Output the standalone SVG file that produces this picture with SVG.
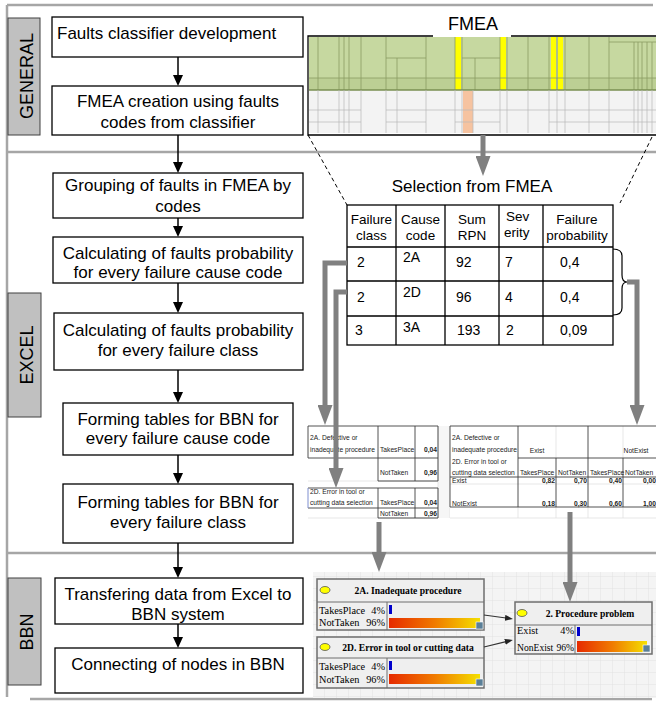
<svg xmlns="http://www.w3.org/2000/svg" width="656" height="702" viewBox="0 0 656 702">
<defs>
<style>
.box{fill:#fff;stroke:#000;stroke-width:1.3}
.t{font-family:"Liberation Sans",Arial,sans-serif;font-size:17px;fill:#000}
.c{text-anchor:middle}
.e{text-anchor:end}
.lbl{fill:#c0c0c0;stroke:#404040;stroke-width:1}
.lt{font-family:"Liberation Sans",Arial,sans-serif;font-size:18px;fill:#000;text-anchor:middle}
.sec{stroke:#a6a6a6;stroke-width:2.5;fill:none}
.ga{stroke:#808080;stroke-width:5;fill:none;marker-end:url(#gh)}
.ba{stroke:#000;stroke-width:1.5;fill:none;marker-end:url(#bh)}
.na{stroke:#333;stroke-width:1.2;fill:none;marker-end:url(#nh)}
.tbl{fill:none;stroke:#000;stroke-width:1.3}
.th{font-family:"Liberation Sans",Arial,sans-serif;font-size:13.5px;fill:#000}
.td{font-family:"Liberation Sans",Arial,sans-serif;font-size:14px;fill:#000}
.xs{font-family:"Liberation Sans",Arial,sans-serif;font-size:6.7px;fill:#222}
.xb{font-family:"Liberation Sans",Arial,sans-serif;font-size:6.7px;font-weight:bold;fill:#222}
.xd{stroke:#404040;stroke-width:0.9;fill:none}
.xl{stroke:#dcdcdc;stroke-width:0.7;fill:none}
.hl{stroke:#8a9d62;stroke-width:0.8;fill:none}
.bl{stroke:#b8b8b8;stroke-width:0.7;fill:none}
.node{fill:#efefef;stroke:#6e6e6e;stroke-width:1.5}
.ns{stroke:#6e6e6e;stroke-width:1;fill:none}
.bt{font-family:"Liberation Serif","Times New Roman",serif;font-size:9.6px;font-weight:bold;fill:#000;text-anchor:middle}
.bn{font-family:"Liberation Serif","Times New Roman",serif;font-size:10.3px;fill:#000}
.dot{fill:#ffff00;stroke:#555;stroke-width:0.8}
.blue{fill:#0000cc}
.icon{fill:#5a7f98;stroke:#fff;stroke-width:0.6}
</style>
<marker id="gh" markerUnits="userSpaceOnUse" markerWidth="20" markerHeight="15" refX="2" refY="7.5" orient="auto"><path d="M0,0 L20,7.5 L0,15 z" fill="#808080"/></marker>
<marker id="bh" markerUnits="userSpaceOnUse" markerWidth="11" markerHeight="10" refX="1" refY="5" orient="auto"><path d="M0,0 L11,5 L0,10 z" fill="#000"/></marker>
<marker id="nh" markerUnits="userSpaceOnUse" markerWidth="8" markerHeight="6" refX="1" refY="3" orient="auto"><path d="M0,0 L8,3 L0,6 z" fill="#222"/></marker>
<linearGradient id="og" x1="0" y1="0" x2="1" y2="0"><stop offset="0" stop-color="#e62a00"/><stop offset="0.5" stop-color="#f07a00"/><stop offset="1" stop-color="#f4e000"/></linearGradient>
<pattern id="grid" width="12" height="12" patternUnits="userSpaceOnUse"><path d="M12,0 H0 V12" fill="none" stroke="#dedede" stroke-width="0.8"/></pattern>
</defs>

<g id="frame">
<path class="sec" d="M7,5 H653"/>
<path class="sec" d="M7,5 V697"/>
<path class="sec" d="M7,152 H656"/>
<path class="sec" d="M7,553 H656"/>
<path class="sec" d="M30,699 H652"/>
</g>

<g id="label-general"><rect class="lbl" x="8" y="18" width="32" height="117"/><text class="lt" transform="translate(33,76) rotate(-90)">GENERAL</text></g>
<g id="label-excel"><rect class="lbl" x="8" y="293" width="33" height="124"/><text class="lt" transform="translate(33,355) rotate(-90)">EXCEL</text></g>
<g id="label-bbn"><rect class="lbl" x="8" y="578" width="33" height="107"/><text class="lt" transform="translate(33,632) rotate(-90)">BBN</text></g>

<g id="step1"><rect class="box" x="52" y="17" width="251" height="40"/><text class="t" x="57" y="39">Faults classifier development</text></g>
<g id="step2"><rect class="box" x="52" y="86" width="251" height="49"/><text class="t c" x="178" y="107">FMEA creation using faults</text><text class="t c" x="178" y="128">codes from classifier</text></g>
<g id="step3"><rect class="box" x="53" y="173" width="250" height="45"/><text class="t c" x="178" y="191">Grouping of faults in FMEA by</text><text class="t c" x="178" y="212">codes</text></g>
<g id="step4"><rect class="box" x="53" y="237" width="250" height="46"/><text class="t c" x="178" y="259">Calculating of faults probability</text><text class="t c" x="178" y="278">for every failure cause code</text></g>
<g id="step5"><rect class="box" x="54" y="313" width="249" height="57"/><text class="t c" x="178" y="336">Calculating of faults probability</text><text class="t c" x="178" y="356">for every failure class</text></g>
<g id="step6"><rect class="box" x="63" y="403" width="230" height="52"/><text class="t c" x="178" y="425">Forming tables for BBN for</text><text class="t c" x="178" y="444">every failure cause code</text></g>
<g id="step7"><rect class="box" x="63" y="484" width="230" height="59"/><text class="t c" x="178" y="508">Forming tables for BBN for</text><text class="t c" x="178" y="528">every failure class</text></g>
<g id="step8"><rect class="box" x="55" y="578" width="248" height="46"/><text class="t c" x="178" y="600">Transfering data from Excel to</text><text class="t c" x="178" y="620">BBN system</text></g>
<g id="step9"><rect class="box" x="55" y="648" width="248" height="45"/><text class="t c" x="178" y="670">Connecting of nodes in BBN</text></g>

<g id="fmea">
<text class="t c" x="473" y="30" style="font-size:18px">FMEA</text>
<rect x="309" y="37" width="347" height="53" fill="#c6d8a0"/>
<rect x="309" y="78" width="347" height="12" fill="#bccf94"/>
<rect x="309" y="90" width="347" height="43" fill="#f3f3f3"/>
<rect x="455" y="37" width="6" height="53" fill="#ffff00"/>
<rect x="500" y="37" width="6" height="53" fill="#ffff00"/>
<rect x="551" y="37" width="5" height="53" fill="#ffff00"/>
<rect x="558" y="37" width="5" height="53" fill="#ffff00"/>
<rect x="463" y="91" width="10" height="42" fill="#f6c3a0"/>
<path class="hl" d="M309,78 H656 M386,58 H426 M462,58 H500 M609,42 H656"/>
<path class="hl" d="M318,37 V90 M339,37 V90 M344,37 V90 M349,37 V90 M361,37 V90 M386,37 V90 M397,58 V90 M426,37 V90 M455,37 V90 M462,37 V90 M475,58 V90 M500,37 V90 M507,37 V90 M528,37 V90 M549,37 V90 M557,37 V90 M565,37 V90 M589,37 V90 M609,37 V90 M634,42 V90 M638,42 V90 M642,42 V90 M647,42 V90 M652,42 V90"/>
<path d="M309,90 H656" stroke="#7a8f52" stroke-width="1.5"/>
<path class="bl" d="M318,90 V133 M339,90 V133 M344,90 V133 M349,90 V133 M361,90 V133 M386,90 V133 M397,90 V133 M426,90 V133 M455,90 V133 M462,90 V133 M473,90 V133 M500,90 V133 M507,90 V133 M528,90 V133 M549,90 V133 M557,90 V133 M565,90 V133 M589,90 V133 M609,90 V133 M634,90 V133 M638,90 V133 M642,90 V133 M647,90 V133 M652,90 V133"/>
<path class="bl" d="M309,110 H361 M386,110 H656 M309,122 H361 M386,122 H426 M455,122 H500 M549,122 H656"/>
<path d="M433,36 H308 V135 H656 M511,36 H656" fill="none" stroke="#000" stroke-width="1.3"/>
</g>

<g id="selection-table">
<text class="t c" x="472" y="192">Selection from FMEA</text>
<rect class="tbl" x="347" y="205" width="266" height="140"/>
<path class="tbl" d="M347,247 H613 M347,281 H613 M347,316 H613 M396,205 V345 M445,205 V345 M499,205 V345 M543,205 V345"/>
<text class="th c" x="371.5" y="224">Failure</text><text class="th c" x="371.5" y="240">class</text>
<text class="th c" x="420.5" y="224">Cause</text><text class="th c" x="420.5" y="240">code</text>
<text class="th c" x="472" y="224">Sum</text><text class="th c" x="472" y="240">RPN</text>
<text class="th" x="506" y="221">Sev</text><text class="th" x="504" y="237">erity</text>
<text class="th c" x="577" y="224">Failure</text><text class="th c" x="577" y="240">probability</text>
<text class="td" x="357" y="267">2</text><text class="td" x="403" y="262">2A</text><text class="td" x="456" y="267">92</text><text class="td" x="505" y="267">7</text><text class="td" x="560" y="267">0,4</text>
<text class="td" x="357" y="302">2</text><text class="td" x="403" y="297">2D</text><text class="td" x="456" y="302">96</text><text class="td" x="505" y="302">4</text><text class="td" x="560" y="302">0,4</text>
<text class="td" x="355" y="335">3</text><text class="td" x="403" y="332">3A</text><text class="td" x="457" y="335">193</text><text class="td" x="506" y="335">2</text><text class="td" x="560" y="335">0,09</text>
<path d="M613,249 Q622,249 622,256 L622,275 Q622,282 627,282 Q622,282 622,289 L622,308 Q622,315 613,315" fill="none" stroke="#000" stroke-width="1.2"/>
</g>

<g id="bbn-table-codes">
<rect x="308" y="426" width="130" height="92" fill="#fff"/>
<rect x="438" y="426" width="12" height="92" fill="#f6f6f6"/>
<path class="xl" d="M308,481 H438 M308,518 H438 M438,426 V518 M450,426 V518"/>
<path class="xd" d="M308,426 H438 M308,426 V458 M308,458 H438 M378,426 V481 M415,426 V481 M438,426 V481 M378,481 H438 M308,488 H438 M308,508 H438 M378,488 V518 M415,488 V518 M438,488 V518 M378,518 H438"/>
<path d="M308,488 V508" stroke="#7f8fd0" stroke-width="1"/>
<text class="xs" x="310" y="440">2A. Defective or</text><text class="xs" x="310" y="452">inadequate procedure</text>
<text class="xs" x="380" y="452">TakesPlace</text><text class="xb e" x="437" y="452">0,04</text>
<text class="xs" x="380" y="475">NotTaken</text><text class="xb e" x="437" y="475">0,96</text>
<text class="xs" x="310" y="494">2D. Error in tool or</text><text class="xs" x="310" y="505">cutting data selection</text>
<text class="xs" x="380" y="505">TakesPlace</text><text class="xb e" x="437" y="505">0,04</text>
<text class="xs" x="380" y="516">NotTaken</text><text class="xb e" x="437" y="516">0,96</text>
</g>

<g id="bbn-table-class">
<rect x="450" y="426" width="206" height="92" fill="#fff"/>
<path class="xl" d="M450,484 H656 M450,518 H656 M556,426 V458 M623,426 V458 M556,507 V518 M623,507 V518 M518,507 V518 M588,507 V518"/>
<path class="xd" d="M450,426 H656 M450,426 V507 M518,426 V507 M588,426 V507 M556,458 V507 M623,458 V507 M518,458 H656 M450,477 H656 M450,507 H656"/>
<text class="xs" x="452" y="440">2A. Defective or</text><text class="xs" x="452" y="452">inadequate procedure</text>
<text class="xs c" x="537" y="453">Exist</text><text class="xs c" x="636" y="453">NotExist</text>
<text class="xs" x="452" y="464">2D. Error in tool or</text><text class="xs" x="452" y="475">cutting data selection</text>
<text class="xs" x="520" y="475">TakesPlace</text><text class="xs" x="558" y="475">NotTaken</text><text class="xs" x="590" y="475">TakesPlace</text><text class="xs" x="625" y="475">NotTaken</text>
<text class="xs" x="452" y="483">Exist</text>
<text class="xb e" x="555" y="483">0,82</text><text class="xb e" x="587" y="483">0,70</text><text class="xb e" x="622" y="483">0,40</text><text class="xb e" x="656" y="483">0,00</text>
<text class="xs" x="452" y="506">NotExist</text>
<text class="xb e" x="555" y="506">0,18</text><text class="xb e" x="587" y="506">0,30</text><text class="xb e" x="622" y="506">0,60</text><text class="xb e" x="656" y="506">1,00</text>
</g>

<g id="bbn-canvas">
<rect x="313" y="572" width="343" height="126" fill="#f4f4f4"/>
<rect x="313" y="572" width="343" height="126" fill="url(#grid)"/>
</g>

<g id="node-2a">
<rect class="node" x="317" y="579" width="167" height="51"/>
<path class="ns" d="M317,602 H484 M387,602 V630"/>
<ellipse class="dot" cx="325" cy="590" rx="5" ry="3.5"/>
<text class="bt" x="408" y="594">2A. Inadequate procedure</text>
<text class="bn" x="319" y="614">TakesPlace</text><text class="bn e" x="385" y="614">4%</text>
<text class="bn" x="319" y="626">NotTaken</text><text class="bn e" x="385" y="626">96%</text>
<rect class="blue" x="389" y="605" width="3" height="9"/>
<rect x="389" y="618" width="91" height="10" fill="url(#og)"/>
<rect class="icon" x="476" y="622" width="7" height="7"/>
</g>

<g id="node-2d">
<rect class="node" x="317" y="637" width="167" height="51"/>
<path class="ns" d="M317,658 H484 M387,658 V688"/>
<ellipse class="dot" cx="325" cy="647" rx="5" ry="3.5"/>
<text class="bt" x="408" y="651">2D. Error in tool or cutting data</text>
<text class="bn" x="319" y="670">TakesPlace</text><text class="bn e" x="385" y="670">4%</text>
<text class="bn" x="319" y="683">NotTaken</text><text class="bn e" x="385" y="683">96%</text>
<rect class="blue" x="389" y="661" width="3" height="9"/>
<rect x="389" y="674" width="91" height="10" fill="url(#og)"/>
<rect class="icon" x="476" y="679" width="7" height="7"/>
</g>

<g id="node-2">
<rect class="node" x="515" y="602" width="137" height="52"/>
<path class="ns" d="M515,625 H652 M575,625 V654"/>
<ellipse class="dot" cx="522" cy="613" rx="5" ry="3.5"/>
<text class="bt" x="590" y="617">2. Procedure problem</text>
<text class="bn" x="517" y="634">Exist</text><text class="bn e" x="574" y="634">4%</text>
<text class="bn" x="517" y="651" style="font-size:9.6px">NonExist</text><text class="bn e" x="574" y="651" style="font-size:9.6px">96%</text>
<rect class="blue" x="577" y="627" width="3" height="9"/>
<rect x="577" y="641" width="70" height="11" fill="url(#og)"/>
<rect class="icon" x="643" y="645" width="7" height="7"/>
</g>

<g id="connectors">
<path class="ba" d="M178,57 V76"/>
<path class="ba" d="M178,135 V163"/>
<path class="ba" d="M178,218 V227"/>
<path class="ba" d="M178,283 V303"/>
<path class="ba" d="M178,370 V393"/>
<path class="ba" d="M178,455 V474"/>
<path class="ba" d="M178,543 V568"/>
<path class="ba" d="M178,624 V638"/>
<path d="M308,135 L347,205 M652,137 L620,203" fill="none" stroke="#000" stroke-width="1" stroke-dasharray="4,3"/>
<path class="ga" d="M483,135 V158"/>
<path class="ga" d="M347,263 H325 V407"/>
<path class="ga" d="M347,292 H336 V470"/>
<path class="ga" d="M627,282 H637 V407"/>
<path class="ga" d="M379,522 V554"/>
<path class="ga" d="M570,512 V584"/>
<path class="na" d="M484,615 L506,618"/>
<path class="na" d="M484,647 L506,641.6"/>
</g>
</svg>
